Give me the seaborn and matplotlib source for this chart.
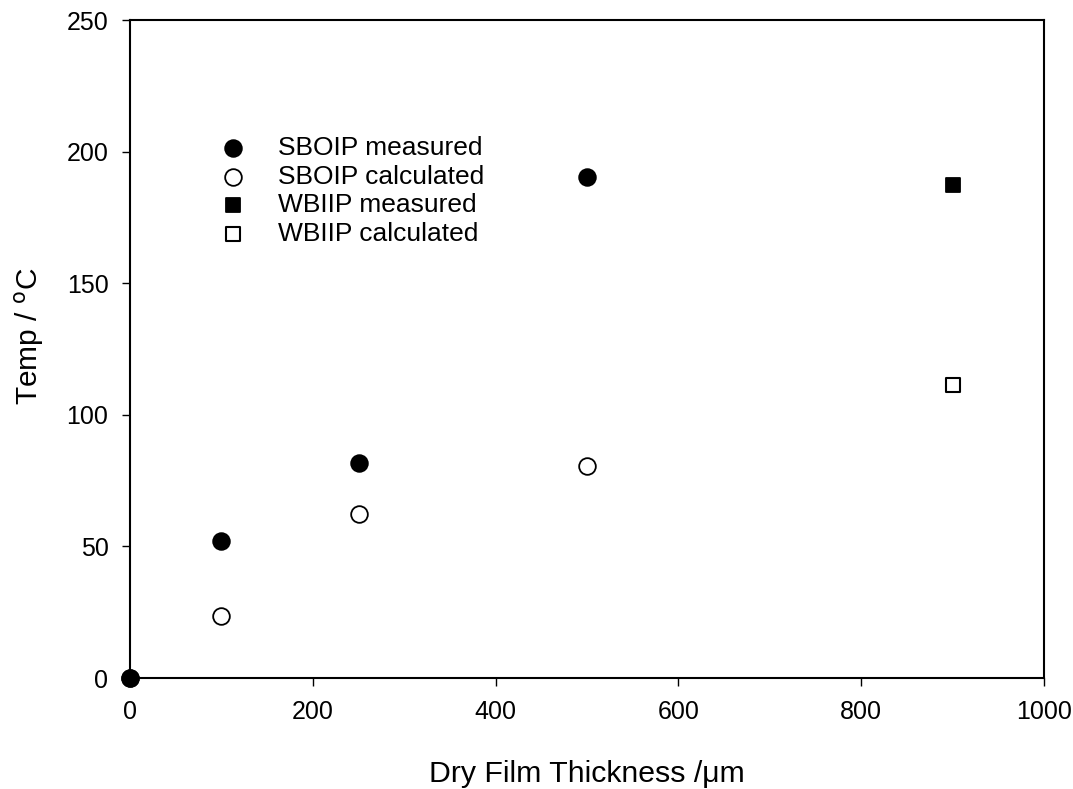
import matplotlib
matplotlib.use("Agg")
import matplotlib.pyplot as plt
import seaborn as sns

sboip_x = [0, 100, 250, 500]
sboip_measured = [0, 52, 81.5, 190.5]
sboip_calculated = [0, 23.5, 62.5, 80.5]
wbiip_x = [900]
wbiip_measured = [187.5]
wbiip_calculated = [111.5]

sns.set_style("white")
plt.rcParams['font.family'] = ['Liberation Sans', 'DejaVu Sans']
plt.rcParams['text.color'] = 'black'
plt.rcParams['axes.labelcolor'] = 'black'

fig = plt.figure(figsize=(10.73, 7.89), dpi=100)
ax = fig.add_axes([130/1073, 1-678/789, (1044-130)/1073, (678-20)/789])

sns.scatterplot(x=sboip_x, y=sboip_calculated, marker='o', s=144, facecolor='white',
                edgecolor='black', linewidth=1.3, label='SBOIP calculated', ax=ax, zorder=2, clip_on=False)
sns.scatterplot(x=sboip_x, y=sboip_measured, marker='o', s=144, color='black',
                edgecolor='black', linewidth=1.3, label='SBOIP measured', ax=ax, zorder=3, clip_on=False)
sns.scatterplot(x=wbiip_x, y=wbiip_measured, marker='s', s=96, color='black',
                edgecolor='black', linewidth=1.3, label='WBIIP measured', ax=ax, zorder=3, clip_on=False)
sns.scatterplot(x=wbiip_x, y=wbiip_calculated, marker='s', s=96, facecolor='white',
                edgecolor='black', linewidth=1.5, label='WBIIP calculated', ax=ax, zorder=2, clip_on=False)

ax.set_xlim(0, 1000)
ax.set_ylim(0, 250)
ax.set_xticks([0, 200, 400, 600, 800, 1000])
ax.set_yticks([0, 50, 100, 150, 200, 250])
for sp in ax.spines.values():
    sp.set_color('black')
    sp.set_linewidth(1.5)
ax.tick_params(axis='both', which='both', direction='out', length=6, width=1.0,
               labelsize=18, colors='black', bottom=True, left=True, top=False, right=False, pad=9.5)
ax.set_xlabel('Dry Film Thickness /\u03bcm', fontsize=21.8)
ax.set_ylabel('Temp / $^{\\mathrm{o}}$C', fontsize=21.5)
ax.xaxis.set_label_coords(0.5, -0.1245)
ax.yaxis.set_label_coords(-0.092, 0.52)

handles, labels = ax.get_legend_handles_labels()
order = ['SBOIP measured', 'SBOIP calculated', 'WBIIP measured', 'WBIIP calculated']
hmap = dict(zip(labels, handles))
leg = ax.legend([hmap[k] for k in order], order, loc='upper left',
                bbox_to_anchor=(0.0985, 0.8234), frameon=False,
                fontsize=19, handlelength=1.0, handletextpad=1.2, labelspacing=0.17,
                borderpad=0, borderaxespad=0)

fig.savefig('out.png', dpi=100)
